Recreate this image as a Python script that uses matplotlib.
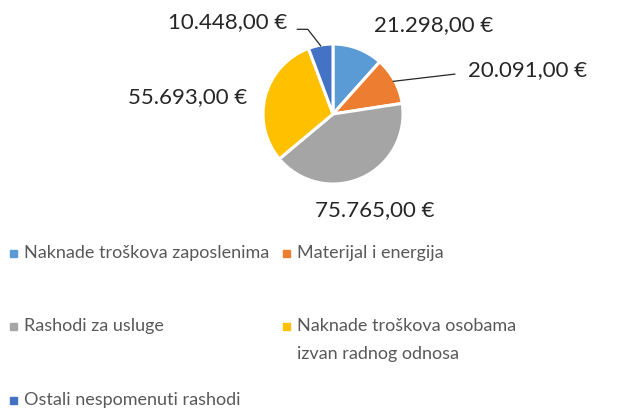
import numpy as np
import matplotlib.pyplot as plt
from matplotlib.patches import Rectangle

plt.rcParams['font.family'] = ['Lato', 'DejaVu Sans']

categories = ['Naknade troškova zaposlenima', 'Materijal i energija', 'Rashodi za usluge',
              'Naknade troškova osobama\nizvan radnog odnosa', 'Ostali nespomenuti rashodi']
values = [21298, 20091, 75765, 55693, 10448]
labels = ['21.298,00 €', '20.091,00 €', '75.765,00 €', '55.693,00 €', '10.448,00 €']
colors = ['#5B9BD5', '#ED7D31', '#A5A5A5', '#FFC000', '#4472C4']

W, H = 632, 409
fig = plt.figure(figsize=(W / 100, H / 100), dpi=100)

# pie axes: center (333,114) px, radius 70 px
cx, cy, r = 333, 114, 70
ax = fig.add_axes([(cx - r) / W, (H - cy - r) / H, 2 * r / W, 2 * r / H])
wedges, _ = ax.pie(values, colors=colors, startangle=90, counterclock=False, radius=1,
                   wedgeprops=dict(edgecolor='white', linewidth=2.2))
ax.set_xlim(-1, 1)
ax.set_ylim(-1, 1)
ax.set_aspect('equal')
ax.axis('off')

# label positions in pie units (layout)
label_pos = [(1.44, 1.27), (2.78, 0.63), (0.59, -1.37), (-2.07, 0.24), (-1.50, 1.31)]
lab_color = '#262626'
for i, (w, txt) in enumerate(zip(wedges, labels)):
    ax.text(*label_pos[i], txt, ha='center', va='center', fontsize=16, color=lab_color)

# leader line for orange slice
w = wedges[1]
ang = np.deg2rad((w.theta1 + w.theta2) / 2)
ax.plot([0.98 * np.cos(ang), 1.74], [0.98 * np.sin(ang), 0.57], color='#262626', lw=0.9,
        clip_on=False)
# leader line for small dark blue slice
w = wedges[4]
ang = np.deg2rad((w.theta1 + w.theta2) / 2)
ax.plot([-0.51, -0.36, 0.99 * np.cos(ang)], [1.21, 1.21, 0.99 * np.sin(ang)],
        color='#262626', lw=0.9, clip_on=False)

# legend (manual layout)
leg_color = '#595959'
leg_items = [(10, 24, 253), (283, 297, 253), (10, 24, 326), (283, 297, 326), (10, 24, 400)]
for (mx, tx, ty), name, c in zip(leg_items, categories, colors):
    fig.add_artist(Rectangle((mx / W, 1 - (ty + 3.5) / H), 7 / W, 7 / H,
                             transform=fig.transFigure, color=c))
    lines = name.split('\n')
    for k, line in enumerate(lines):
        fig.text(tx / W, 1 - (ty + 28 * k) / H, line, ha='left', va='center',
                 fontsize=13, color=leg_color)

fig.savefig('out.png', dpi=100)
